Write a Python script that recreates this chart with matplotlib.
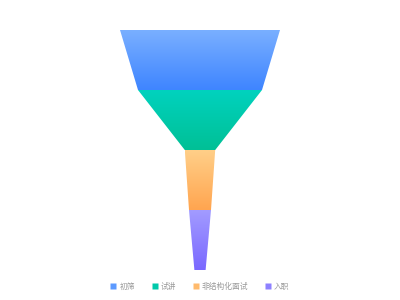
import numpy as np
import matplotlib
matplotlib.use("Agg")
import matplotlib.pyplot as plt
from matplotlib.patches import Polygon
from matplotlib.lines import Line2D
from matplotlib.colors import LinearSegmentedColormap

plt.rcParams['font.family'] = ['Noto Sans CJK SC', 'DejaVu Sans']

# funnel data (value of each stage, last entry is the tip of the funnel)
stages = ['初筛', '试讲', '非结构化面试', '入职']
values = [100, 77.5, 19, 13.75]
tip_value = 7

# gradient colours per stage (top, bottom)
colors_top = ['#79AFFF', '#00D2BE', '#FFCF88', '#A29BFF']
colors_bot = ['#3F85FF', '#00C096', '#FFA550', '#7A68FF']

fig = plt.figure(figsize=(4, 3), dpi=100)
ax = fig.add_axes([0, 0, 1, 1])
ax.set_xlim(0, 400)
ax.set_ylim(300, 0)
ax.axis('off')

cx = 200
full_w = 160
top_y = 30
seg_h = 60

widths = [v / max(values) * full_w for v in values] + [tip_value / max(values) * full_w]

for i, name in enumerate(stages):
    y0 = top_y + i * seg_h
    y1 = y0 + seg_h
    w0, w1 = widths[i], widths[i + 1]
    pts = [(cx - w0 / 2, y0), (cx + w0 / 2, y0), (cx + w1 / 2, y1), (cx - w1 / 2, y1)]
    poly = Polygon(pts, closed=True, facecolor='none', edgecolor='none')
    ax.add_patch(poly)
    cmap = LinearSegmentedColormap.from_list('g%d' % i, [colors_top[i], colors_bot[i]])
    grad = np.linspace(0, 1, 100).reshape(-1, 1)
    im = ax.imshow(grad, cmap=cmap, aspect='auto',
                   extent=(cx - w0 / 2, cx + w0 / 2, y1, y0), interpolation='bicubic')
    im.set_clip_path(poly)

ax.set_xlim(0, 400)
ax.set_ylim(300, 0)

handles = []
for i, name in enumerate(stages):
    mid = LinearSegmentedColormap.from_list('m', [colors_top[i], colors_bot[i]])(0.5)
    handles.append(Line2D([], [], marker='s', linestyle='none', markersize=5,
                          markerfacecolor=mid, markeredgecolor='none', label=name))

leg = fig.legend(handles=handles, loc='center', bbox_to_anchor=(0.5, 1 - 286.5 / 300),
                 ncol=4, frameon=False, fontsize=5.6, handlelength=0.8,
                 handletextpad=0.4, columnspacing=2.1, labelcolor='#999999')

fig.savefig('out.png', dpi=100)
